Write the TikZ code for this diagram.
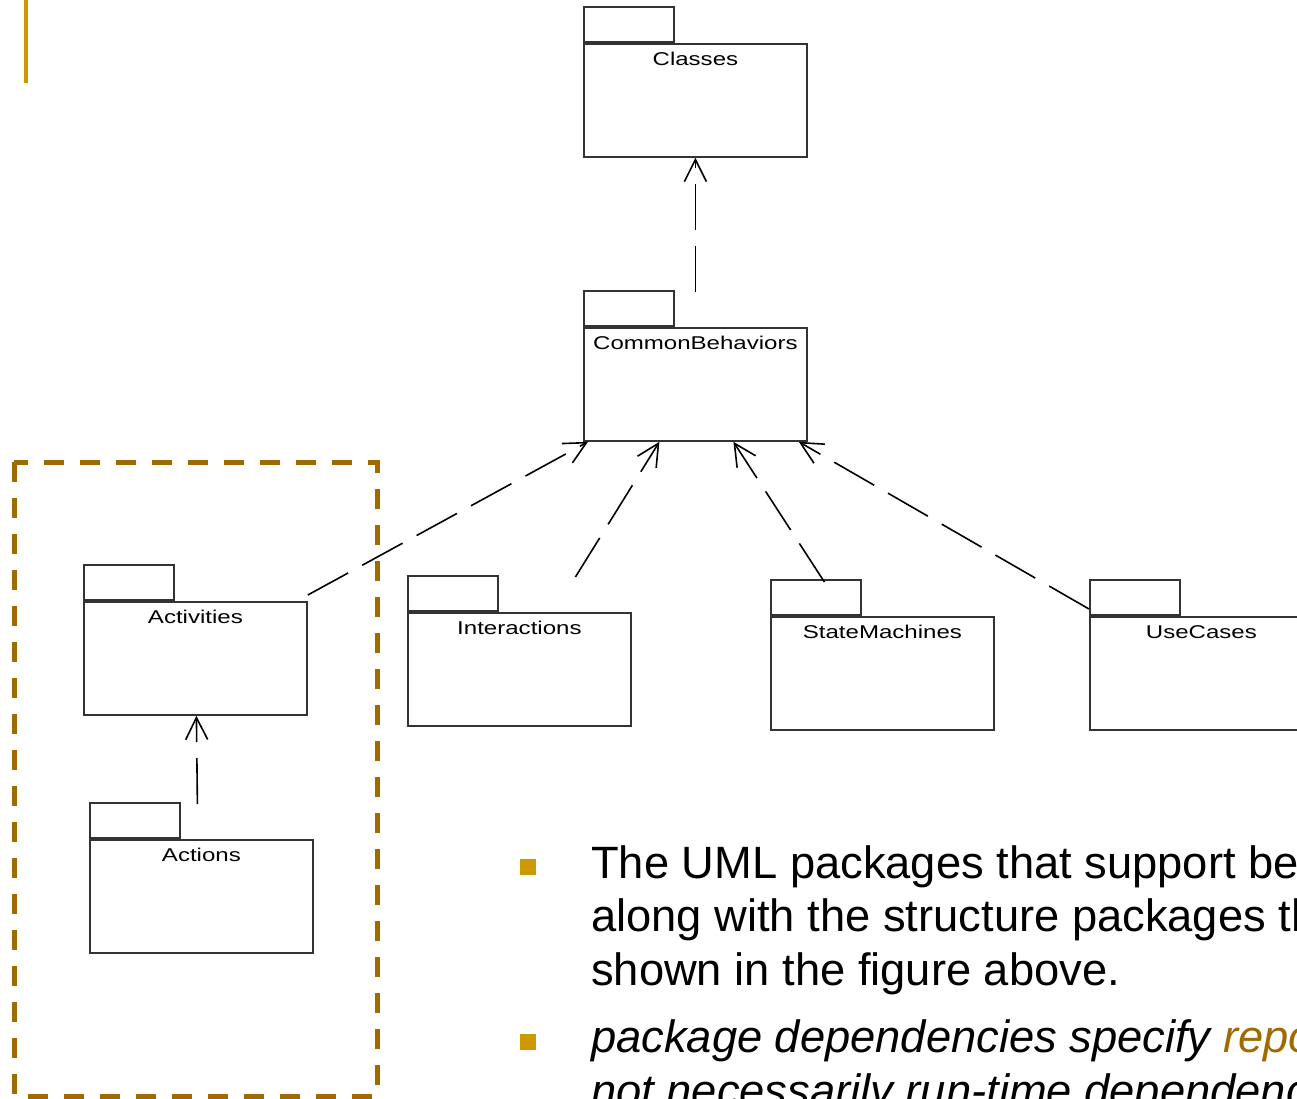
\documentclass[tikz,border=0pt]{standalone}
\usepackage{fontspec}
\setmainfont{Liberation Sans}
\usepackage{graphicx}
\usetikzlibrary{arrows.meta}
\definecolor{gold}{RGB}{204,153,0}
\definecolor{darkgold}{RGB}{160,106,0}
\newcommand{\pkgname}[1]{\scalebox{1.3}[1]{#1}}
\tikzstyle{package} = [rectangle, minimum width = 223pt, minimum height = 113pt, inner sep=0pt, draw = black!80, line width=1.8pt, anchor=north west]
\tikzstyle{tab} = [rectangle, minimum width = 90pt, minimum height = 35pt, inner sep=0pt, draw = black!80, line width=1.8pt, anchor=south west]
\tikzstyle{pkglabel} = [anchor=north, yshift=-9pt, inner sep=0pt, font=\fontsize{18.5}{20}\selectfont]
\tikzstyle{dep} = [-{Straight Barb[length=22pt,width=22pt]}, line width=1.6pt, dash pattern=on 46pt off 16pt]
\tikzstyle{bullet} = [rectangle, minimum size=16pt, inner sep=0pt, fill=gold]
\tikzstyle{bodytext} = [anchor=base west, inner sep=0pt, font=\fontsize{45.3}{54}\selectfont]

\begin{document}
\begin{tikzpicture}[x=1pt,y=-1pt]
	\useasboundingbox (0,0) rectangle (1297,1098);
	\clip (0,0) rectangle (1297,1098);
	% slide decorations
	\draw [gold, line width=4.5pt] (26,0) -- (26,83);
	\draw [darkgold, line width=5pt, dash pattern=on 20pt off 16pt] (14,462) rectangle (377,1096);
	% packages
	\node (CL) [package, label={[pkglabel]north:\pkgname{Classes}}] at (583,43) {};
	\node (CLtab) [tab] at (CL.north west) {};
	\node (CB) [package, label={[pkglabel]north:\pkgname{CommonBehaviors}}] at (583,327) {};
	\node (CBtab) [tab] at (CB.north west) {};
	\node (ACT) [package, label={[pkglabel]north:\pkgname{Activities}}] at (83,601) {};
	\node (ACTtab) [tab] at (ACT.north west) {};
	\node (ACN) [package, label={[pkglabel]north:\pkgname{Actions}}] at (89,839) {};
	\node (ACNtab) [tab] at (ACN.north west) {};
	\node (INT) [package, label={[pkglabel]north:\pkgname{Interactions}}] at (407,612) {};
	\node (INTtab) [tab] at (INT.north west) {};
	\node (SM) [package, label={[pkglabel]north:\pkgname{StateMachines}}] at (770,616) {};
	\node (SMtab) [tab] at (SM.north west) {};
	\node (UC) [package, label={[pkglabel]north:\pkgname{UseCases}}] at (1089,616) {};
	\node (UCtab) [tab] at (UC.north west) {};
	% dependencies
	\draw [dep] ([yshift=35pt]CB.north) -- (CL.south);
	\draw [dep] ([yshift=6pt]ACT.north east) -- ([xshift=5pt]CB.south west);
	\draw [dep] ([xshift=56pt,yshift=35pt]INT.north) -- ([xshift=-36pt]CB.south);
	\draw [dep] ([xshift=-58pt,yshift=34pt]SM.north) -- ([xshift=38pt]CB.south);
	\draw [dep] ([yshift=7pt]UC.north west) -- ([xshift=-9pt]CB.south east);
	\draw [dep] ([xshift=-4pt,yshift=35pt]ACN.north) -- ([xshift=1pt]ACT.south);
	% bullet text
	\node (b1) [bullet] at (528,867) {};
	\node (b2) [bullet] at (528,1042) {};
	\node (l1) [bodytext] at (591,878) {The UML packages that support be};
	\node (l2) [bodytext] at (591,931) {along with the structure packages th};
	\node (l3) [bodytext] at (591,985) {shown in the figure above.};
	\node (l4) [bodytext] at (591,1052) {\itshape package dependencies specify \textcolor{darkgold}{repo}};
	\node (l5) [bodytext] at (591,1106) {\itshape not necessarily run-time dependenc};
\end{tikzpicture}
\end{document}
